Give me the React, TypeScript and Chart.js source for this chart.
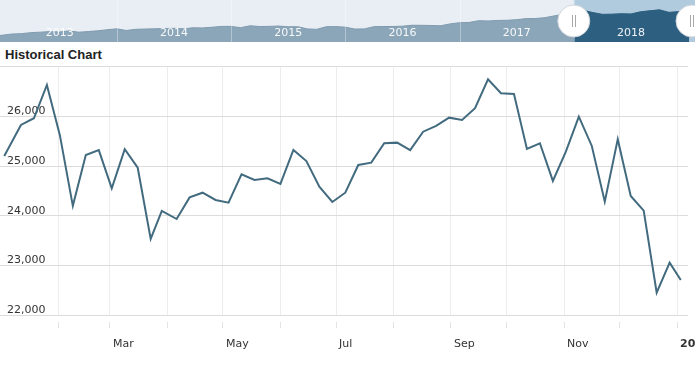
import React, { useEffect, useRef } from 'react';
import { Chart, registerables } from 'chart.js';

Chart.register(...registerables);

// ---------- Main chart data (weekly closes, 2018) ----------
const weekDates = [
  '2018-01-03', '2018-01-12', '2018-01-19', '2018-01-26', '2018-02-02', '2018-02-09', '2018-02-16', '2018-02-23',
  '2018-03-02', '2018-03-09', '2018-03-16', '2018-03-23', '2018-03-29', '2018-04-06', '2018-04-13', '2018-04-20',
  '2018-04-27', '2018-05-04', '2018-05-11', '2018-05-18', '2018-05-25', '2018-06-01', '2018-06-08', '2018-06-15',
  '2018-06-22', '2018-06-29', '2018-07-06', '2018-07-13', '2018-07-20', '2018-07-27', '2018-08-03', '2018-08-10',
  '2018-08-17', '2018-08-24', '2018-08-31', '2018-09-07', '2018-09-14', '2018-09-21', '2018-09-28', '2018-10-05',
  '2018-10-12', '2018-10-19', '2018-10-26', '2018-11-02', '2018-11-09', '2018-11-16', '2018-11-23', '2018-11-30',
  '2018-12-07', '2018-12-14', '2018-12-21', '2018-12-28', '2019-01-03',
];
const weekCloses = [
  25200, 25825, 25960, 26630, 25620, 24200, 25220, 25320,
  24550, 25340, 24965, 23535, 24100, 23935, 24370, 24464,
  24318, 24264, 24834, 24720, 24753, 24640, 25323, 25100,
  24585, 24277, 24464, 25021, 25068, 25457, 25470, 25320,
  25690, 25805, 25972, 25926, 26161, 26744, 26462, 26448,
  25343, 25457, 24700, 25288, 25992, 25403, 24284, 25538,
  24398, 24103, 22454, 23057, 22709,
];
const monthTickDates = [
  '2018-02-01', '2018-03-01', '2018-04-01', '2018-05-01', '2018-06-01', '2018-07-01',
  '2018-08-01', '2018-09-01', '2018-10-01', '2018-11-01', '2018-12-01', '2019-01-01',
];
const monthTickLabels = ['', 'Mar', '', 'May', '', 'Jul', '', 'Sep', '', 'Nov', '', '2019'];
const yTickValues = [22000, 23000, 24000, 25000, 26000, 27000];
const yTickLabels = ['22,000', '23,000', '24,000', '25,000', '26,000', ''];
const AXIS_START_DAY = -0.3;
const AXIS_END_DAY = 370.9;

// ---------- Navigator data (monthly closes 2013-2018) ----------
const navYears = [2013, 2014, 2015, 2016, 2017, 2018];
const navStart = 13104;
const nav2013 = [13861, 14054, 14579, 14840, 15116, 14910, 15500, 14810, 15130, 15546, 16086, 16577];
const nav2014 = [15699, 16322, 16458, 16581, 16717, 16827, 16563, 17098, 17043, 17391, 17828, 17823];
const nav2015 = [17165, 18133, 17776, 17841, 18011, 17620, 17690, 16528, 16285, 17664, 17720, 17425];
const nav2016 = [16466, 16517, 17685, 17774, 17787, 17930, 18432, 18401, 18308, 18142, 19124, 19763];
const nav2017 = [19864, 20812, 20663, 20941, 21009, 21350, 21891, 21948, 22405, 23377, 24272, 24719];
const nav2018 = [26149, 25029, 24103, 24163, 24416, 24271, 25415, 25965, 26458, 25116, 25538, 23327];
const navEnd = 22709;
const NAV_MIN = 2012.978;
const NAV_MAX = 2019.061;
const NAV_Y_MIN = 9700;
const NAV_Y_MAX = 31600;
const SELECT_FROM = 2018;

const dayOffset = (d: string) => (Date.parse(d) - Date.parse('2018-01-01')) / 86400000;

Chart.defaults.font.family = '"DejaVu Sans", Verdana, sans-serif';

function Navigator() {
  const ref = useRef<HTMLCanvasElement>(null);
  useEffect(() => {
    const yearly = [nav2013, nav2014, nav2015, nav2016, nav2017, nav2018];
    const all: { x: number; y: number }[] = [{ x: NAV_MIN, y: navStart }];
    yearly.forEach((arr, yi) => arr.forEach((v, m) => all.push({ x: navYears[yi] + (m + 1) / 12, y: v })));
    all.push({ x: navYears[navYears.length - 1] + 1.01, y: navEnd });
    const sel = all.filter((p) => p.x >= SELECT_FROM);

    const navPlugin = {
      id: 'navDecor',
      beforeDraw(chart: any) {
        const { ctx, width, height, scales } = chart;
        ctx.save();
        ctx.fillStyle = '#e8eef3';
        ctx.fillRect(0, 0, width, height);
        const sx = scales.x.getPixelForValue(SELECT_FROM);
        ctx.fillStyle = '#b0cade';
        ctx.fillRect(sx, 0, width - sx, height);
        ctx.restore();
      },
      afterDatasetsDraw(chart: any) {
        const { ctx, height, scales } = chart;
        const x = scales.x;
        ctx.save();
        ctx.strokeStyle = 'rgba(255,255,255,0.35)';
        ctx.lineWidth = 1;
        navYears.slice(1).forEach((yr) => {
          const px = Math.round(x.getPixelForValue(yr)) + 0.5;
          ctx.beginPath();
          ctx.moveTo(px, 0);
          ctx.lineTo(px, height);
          ctx.stroke();
        });
        ctx.fillStyle = 'rgba(255,255,255,0.92)';
        ctx.font = '11px "DejaVu Sans", Verdana, sans-serif';
        ctx.textAlign = 'center';
        ctx.textBaseline = 'middle';
        navYears.forEach((yr) => {
          ctx.fillText(String(yr), x.getPixelForValue(yr + 0.5), 33);
        });
        const handles = [x.getPixelForValue(SELECT_FROM), 692];
        handles.forEach((hx) => {
          ctx.beginPath();
          ctx.arc(hx, 21, 16, 0, Math.PI * 2);
          ctx.fillStyle = '#ffffff';
          ctx.fill();
          ctx.strokeStyle = '#d0d6dc';
          ctx.lineWidth = 1;
          ctx.stroke();
          ctx.strokeStyle = '#a8a8a8';
          ctx.beginPath();
          ctx.moveTo(Math.round(hx) - 1.5, 15);
          ctx.lineTo(Math.round(hx) - 1.5, 27);
          ctx.moveTo(Math.round(hx) + 1.5, 15);
          ctx.lineTo(Math.round(hx) + 1.5, 27);
          ctx.stroke();
        });
        ctx.restore();
      },
    };

    const chart = new Chart(ref.current!, {
      type: 'line',
      data: {
        datasets: [
          { data: all, fill: 'start', backgroundColor: '#8ca6b9', borderColor: '#7f9aaf', borderWidth: 1, pointRadius: 0, tension: 0, order: 2 },
          { data: sel, fill: 'start', backgroundColor: '#2d5f80', borderColor: '#2d5f80', borderWidth: 1, pointRadius: 0, tension: 0, order: 1 },
        ],
      },
      options: {
        animation: false,
        responsive: false,
        layout: { padding: 0, autoPadding: false },
        plugins: { legend: { display: false }, tooltip: { enabled: false } },
        scales: {
          x: { type: 'linear', display: false, min: NAV_MIN, max: NAV_MAX },
          y: { type: 'linear', display: false, min: NAV_Y_MIN, max: NAV_Y_MAX },
        },
      },
      plugins: [navPlugin],
    } as any);
    return () => chart.destroy();
  }, []);
  return (
    <canvas ref={ref} width={695} height={42} style={{ position: 'absolute', left: 0, top: 0, width: 695, height: 42 }} />
  );
}

function MainChart() {
  const ref = useRef<HTMLCanvasElement>(null);
  useEffect(() => {
    const points = weekDates.map((d, i) => ({ x: dayOffset(d), y: weekCloses[i] }));
    const tickVals = monthTickDates.map(dayOffset);
    const chart = new Chart(ref.current!, {
      type: 'line',
      data: {
        datasets: [
          { data: points, borderColor: '#436b7f', borderWidth: 2, pointRadius: 0, fill: false, tension: 0 },
        ],
      },
      options: {
        animation: false,
        responsive: false,
        layout: { padding: { top: 6.5, right: 7, left: 0, bottom: 0 }, autoPadding: false },
        plugins: { legend: { display: false }, tooltip: { enabled: false } },
        scales: {
          x: {
            type: 'linear',
            min: AXIS_START_DAY,
            max: AXIS_END_DAY,
            afterBuildTicks: (s: any) => {
              s.ticks = tickVals.map((v) => ({ value: v }));
            },
            afterFit: (s: any) => {
              s.height = 57.7;
              s.paddingLeft = 0;
              s.paddingRight = 0;
            },
            ticks: {
              autoSkip: false,
              maxRotation: 0,
              minRotation: 0,
              align: 'start',
              labelOffset: 3,
              padding: 8,
              color: '#333333',
              font: (ctx: any) => ({
                family: '"DejaVu Sans", Verdana, sans-serif',
                size: 11,
                weight: monthTickLabels[ctx.index] === '2019' ? 'bold' : 'normal',
              }),
              callback: (_v: any, i: number) => monthTickLabels[i],
            },
            grid: { color: '#ececec', tickLength: 14, tickColor: '#e4e4e4', tickBorderDash: [0, 7, 6, 100] },
            border: { display: false },
          },
          y: {
            type: 'linear',
            min: 22000,
            max: 27000,
            afterBuildTicks: (s: any) => {
              s.ticks = yTickValues.map((v) => ({ value: v }));
            },
            afterFit: (s: any) => {
              s.width = 0;
              s.paddingTop = 0;
              s.paddingBottom = 0;
            },
            ticks: {
              mirror: true,
              padding: 7,
              labelOffset: -5,
              color: '#333333',
              font: { family: '"DejaVu Sans", Verdana, sans-serif', size: 11 },
              callback: (_v: any, i: number) => yTickLabels[i],
            },
            grid: { color: '#dcdcdc', drawTicks: false },
            border: { display: false },
          },
        },
      },
    } as any);
    return () => chart.destroy();
  }, []);
  return (
    <canvas ref={ref} width={695} height={313} style={{ position: 'absolute', left: 0, top: 60, width: 695, height: 313 }} />
  );
}

export default function App() {
  return (
    <div style={{ position: 'fixed', left: 0, top: 0, width: 695, height: 373, background: '#ffffff', overflow: 'hidden' }}>
      <Navigator />
      <div
        style={{
          position: 'absolute',
          left: 5,
          top: 48,
          font: 'bold 13px "Liberation Sans", Arial, sans-serif',
          lineHeight: '13px',
          color: '#222222',
          whiteSpace: 'nowrap',
        }}
      >
        Historical Chart
      </div>
      <MainChart />
    </div>
  );
}
